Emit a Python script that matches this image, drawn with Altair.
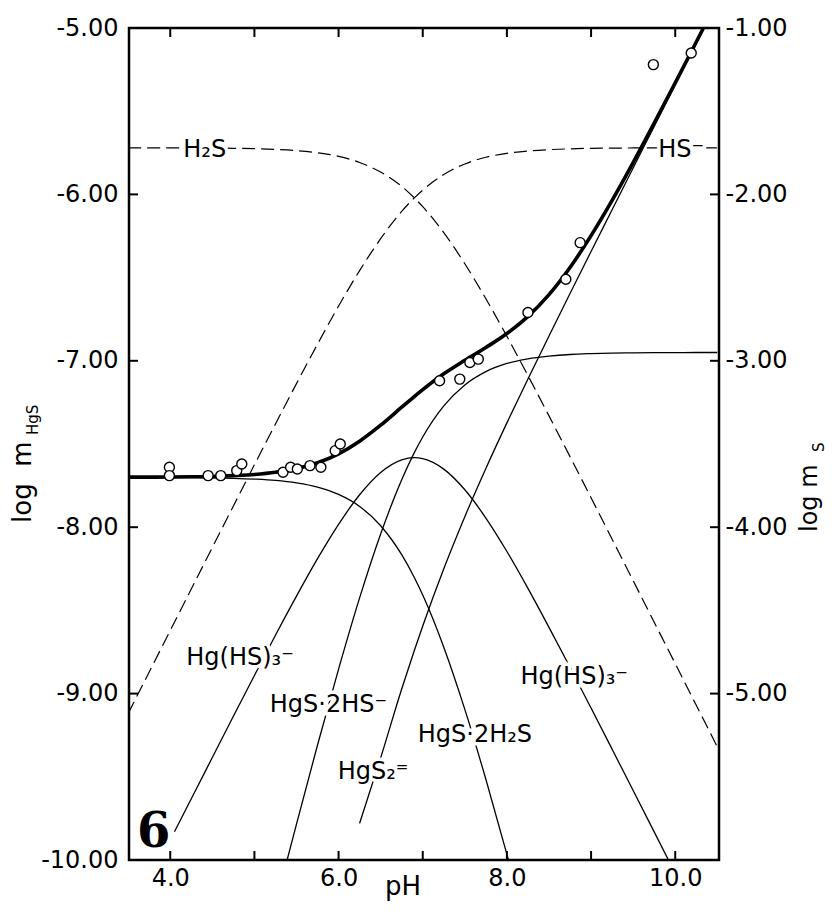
import altair as alt
import pandas as pd

# ---------------- data ----------------
PH_DOMAIN = [3.51, 10.52]
LOGM_DOMAIN = [-10.0, -5.0]      # left axis, log m_HgS
LOGS_DOMAIN = [-6.0, -1.0]       # right axis, log m_S
W, H = 590, 832
FONT = "DejaVu Sans"

grid_ph = [3.5, 3.75, 4.0, 4.25, 4.5, 4.75, 5.0, 5.25, 5.5, 5.75, 6.0, 6.25, 6.5, 6.75, 6.9,
           7.0, 7.25, 7.5, 7.75, 8.0, 8.25, 8.5, 8.75, 9.0, 9.25, 9.5, 9.75, 10.0, 10.25, 10.5]
h2s_v = [-5.720, -5.720, -5.721, -5.721, -5.722, -5.723, -5.725, -5.730, -5.737, -5.750, -5.771, -5.808,
         -5.866, -5.952, -6.021, -6.074, -6.230, -6.417, -6.627, -6.853, -7.089, -7.331, -7.576, -7.823,
         -8.072, -8.321, -8.571, -8.820, -9.070, -9.320]
hs_v = [-9.120, -8.870, -8.621, -8.371, -8.122, -7.873, -7.625, -7.380, -7.137, -6.900, -6.671, -6.458,
        -6.266, -6.102, -6.021, -5.974, -5.880, -5.817, -5.777, -5.753, -5.739, -5.731, -5.726, -5.723,
        -5.722, -5.721, -5.721, -5.720, -5.720, -5.720]
total_v = [-7.699, -7.699, -7.698, -7.697, -7.695, -7.690, -7.683, -7.670, -7.648, -7.613, -7.559, -7.483,
           -7.387, -7.279, -7.215, -7.173, -7.078, -6.997, -6.920, -6.836, -6.733, -6.602, -6.439, -6.248,
           -6.036, -5.809, -5.572, -5.330, -5.084, -4.837]

# HgS·2H2S
a_ph = [3.5, 3.75, 4.0, 4.25, 4.5, 4.75, 5.0, 5.25, 5.5, 5.75, 6.0, 6.25, 6.5, 6.75, 6.9, 7.0, 7.25, 7.5,
        7.75, 8.0, 8.25]
a_v = [-7.700, -7.701, -7.701, -7.702, -7.703, -7.706, -7.711, -7.719, -7.734, -7.759, -7.803, -7.875,
       -7.991, -8.165, -8.302, -8.408, -8.721, -9.095, -9.515, -9.966, -10.438]
# HgS·2HS-
b_ph = [5.0, 5.25, 5.5, 5.75, 6.0, 6.25, 6.5, 6.75, 6.9, 7.0, 7.25, 7.5, 7.75, 8.0, 8.25, 8.5, 8.75, 9.0,
        9.25, 9.5, 9.75, 10.0, 10.25, 10.5]
b_v = [-10.761, -10.269, -9.784, -9.309, -8.853, -8.425, -8.041, -7.715, -7.552, -7.458, -7.271, -7.145,
       -7.065, -7.016, -6.988, -6.972, -6.962, -6.957, -6.954, -6.952, -6.951, -6.951, -6.950, -6.950]
# Hg(HS)3-
c_ph = [4.05, 4.25, 4.5, 4.75, 5.0, 5.25, 5.5, 5.75, 6.0, 6.25, 6.5, 6.75, 6.9, 7.0, 7.25, 7.5, 7.75, 8.0,
        8.25, 8.5, 8.75, 9.0, 9.25, 9.5, 9.75, 10.0]
c_v = [-9.830, -9.632, -9.384, -9.136, -8.891, -8.649, -8.414, -8.189, -7.983, -7.805, -7.671, -7.595,
       -7.582, -7.588, -7.651, -7.775, -7.945, -8.146, -8.368, -8.602, -8.842, -9.087, -9.334, -9.582,
       -9.831, -10.081]
# HgS2=
d_ph = [6.25, 6.5, 6.75, 6.9, 7.0, 7.25, 7.5, 7.75, 8.0, 8.25, 8.5, 8.75, 9.0, 9.25, 9.5, 9.75, 10.0,
        10.25, 10.5]
d_v = [-9.780, -9.386, -8.972, -8.741, -8.594, -8.250, -7.937, -7.647, -7.373, -7.109, -6.851, -6.596,
       -6.343, -6.092, -5.841, -5.591, -5.340, -5.090, -4.840]

# measured solubilities (open circles)
pts_ph = [3.99, 3.99, 4.45, 4.60, 4.79, 4.85, 5.34, 5.43, 5.51, 5.66, 5.79, 5.96, 6.02, 7.20, 7.44, 7.56, 7.66,
          8.25, 8.70, 8.87, 9.74, 10.19]
pts_v = [-7.64, -7.69, -7.69, -7.69, -7.66, -7.62, -7.67, -7.64, -7.65, -7.63, -7.64, -7.54, -7.50, -7.12, -7.11,
         -7.01, -6.99, -6.71, -6.51, -6.29, -5.22, -5.15]

# in-plot species labels
label_text = ["H\u2082S", "HS\u207b", "Hg(HS)\u2083\u207b", "HgS\u00b72HS\u207b", "HgS\u2082\u207c",
              "HgS\u00b72H\u2082S", "Hg(HS)\u2083\u207b"]
label_ph = [4.41, 10.07, 4.83, 5.88, 6.41, 7.62, 8.80]
label_v = [-5.733, -5.733, -8.786, -9.069, -9.471, -9.249, -8.900]

panel_text = ["6"]
panel_ph = [3.605]
panel_v = [-9.922]

xtick_ph = [4, 5, 6, 7, 8, 9, 10]
xlabel_ph = [4, 6, 8, 10]
ytick_v = [-6, -7, -8, -9]
yleft_labels = [-5, -6, -7, -8, -9, -10]
yright_labels = [-1, -2, -3, -4, -5]

yl_title, yl_sub = "log\u00a0\u00a0m", "HgS"
yr_title, yr_sub = "log\u00a0m", "S"
x_title = "pH"

# ---------------- chart ----------------
X = alt.X("pH:Q", scale=alt.Scale(domain=PH_DOMAIN, nice=False, zero=False),
          axis=alt.Axis(values=xlabel_ph, format=".1f", title=None, ticks=False, tickSize=0,
                        domain=False, grid=False, labelPadding=6, labelFlush=False,
                        labelOverlap=False))
Y = alt.Y("v:Q", scale=alt.Scale(domain=LOGM_DOMAIN, nice=False, zero=False),
          axis=alt.Axis(values=yleft_labels, labelExpr="'-' + format(-datum.value, '.2f')",
                        title=None, ticks=False, tickSize=0, domain=False, grid=False,
                        labelPadding=11, labelFlush=False, labelOverlap=False))


def curve_df(name, ph, v):
    return pd.DataFrame({"curve": name, "pH": ph, "v": v})


thin_df = pd.concat([curve_df("a", a_ph, a_v), curve_df("b", b_ph, b_v),
                     curve_df("c", c_ph, c_v), curve_df("d", d_ph, d_v)])
dash_df = pd.concat([curve_df("h2s", grid_ph, h2s_v), curve_df("hs", grid_ph, hs_v)])
total_df = curve_df("total", grid_ph, total_v)
pts_df = pd.DataFrame({"pH": pts_ph, "v": pts_v})
lab_df = pd.DataFrame({"pH": label_ph, "v": label_v, "t": label_text})
panel_df = pd.DataFrame({"pH": panel_ph, "v": panel_v, "t": panel_text})
xt_df = pd.DataFrame({"pH": xtick_ph})
yt_df = pd.DataFrame({"v": ytick_v})
one = pd.DataFrame({"k": [0]})

thin = alt.Chart(thin_df).mark_line(color="black", strokeWidth=1.3, interpolate="monotone",
                                    clip=True).encode(x=X, y=Y, detail="curve:N", order="pH:Q")
dashed = alt.Chart(dash_df).mark_line(color="black", strokeWidth=1.2, strokeDash=[13, 6],
                                      interpolate="monotone", clip=True).encode(
    x=X, y=Y, detail="curve:N", order="pH:Q")
thick = alt.Chart(total_df).mark_line(color="black", strokeWidth=3.6, interpolate="monotone",
                                      clip=True).encode(x=X, y=Y, order="pH:Q")
points = alt.Chart(pts_df).mark_point(shape="circle", size=100, filled=False, fill="white",
                                      fillOpacity=1, stroke="black", strokeWidth=1.4,
                                      opacity=1).encode(x=X, y=Y)
halo = alt.Chart(lab_df).mark_text(font=FONT, fontSize=24, fill="white", stroke="white",
                                   strokeWidth=7, align="center", baseline="middle").encode(
    x=X, y=Y, text="t:N")
labels = alt.Chart(lab_df).mark_text(font=FONT, fontSize=24, color="black", align="center",
                                     baseline="middle").encode(x=X, y=Y, text="t:N")
panel = alt.Chart(panel_df).mark_text(font="DejaVu Serif", fontSize=48, fontWeight="bold",
                                      color="black", align="left", baseline="alphabetic").encode(
    x=X, y=Y, text="t:N")

tick_style = dict(color="black", strokeWidth=2)
bottom_ticks = alt.Chart(xt_df).mark_rule(**tick_style).encode(x=X, y=alt.value(H), y2=alt.value(H - 9))
top_ticks = alt.Chart(xt_df).mark_rule(**tick_style).encode(x=X, y=alt.value(0), y2=alt.value(9))
left_ticks = alt.Chart(yt_df).mark_rule(**tick_style).encode(y=Y, x=alt.value(0), x2=alt.value(9))
right_ticks = alt.Chart(yt_df).mark_rule(**tick_style).encode(y=Y, x=alt.value(W), x2=alt.value(W - 9))


def title_text(txt, x, y, size, angle=270):
    return alt.Chart(one).mark_text(font=FONT, fontSize=size, color="black", align="left",
                                    baseline="alphabetic", angle=angle).encode(
        x=alt.value(x), y=alt.value(y), text=alt.value(txt))


titles = [
    title_text(yl_title, -98, 495, 26),
    title_text(yl_sub, -91, 407, 15),
    title_text(yr_title, 688, 504, 24),
    title_text(yr_sub, 695, 424, 15),
    alt.Chart(one).mark_text(font=FONT, fontSize=26, color="black", align="center",
                             baseline="alphabetic").encode(
        x=alt.value(274), y=alt.value(867), text=alt.value(x_title)),
]

main = alt.layer(thin, dashed, thick, points, halo, labels, panel,
                 bottom_ticks, top_ticks, left_ticks, right_ticks, *titles)

right_axis = alt.Chart(pd.DataFrame({"ms": yright_labels})).mark_point(opacity=0).encode(
    y=alt.Y("ms:Q", scale=alt.Scale(domain=LOGS_DOMAIN, nice=False, zero=False),
            axis=alt.Axis(orient="right", values=yright_labels,
                          labelExpr="'-' + format(-datum.value, '.2f')", title=None,
                          ticks=False, tickSize=0, domain=False, grid=False,
                          labelPadding=6, labelFlush=False, labelOverlap=False)))

chart = alt.layer(main, right_axis).resolve_scale(y="independent").properties(
    width=W, height=H,
    autosize=alt.AutoSizeParams(type="none"),
    padding={"left": 121, "top": 20, "right": 113, "bottom": 44},
).configure_view(stroke="black", strokeWidth=2.5).configure_axis(
    labelFont=FONT, labelFontSize=24, labelColor="black")

chart.save("out.html", embed_options={"renderer": "svg", "actions": False})
